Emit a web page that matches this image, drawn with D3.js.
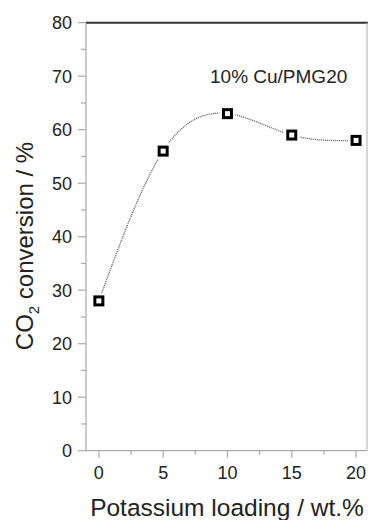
<!DOCTYPE html>
<html lang="en">
<head>
    <title>CO2 conversion vs potassium loading</title>
    <style>
        body, html { margin: 0; height: 100%; overflow: hidden; background: #fff; }
        svg { display: block; }
        text { font-family: "Liberation Sans", Arial, sans-serif; fill: #222; }
    </style>
    <script src="https://d3js.org/d3.v7.min.js"></script>
</head>
<body>
    <svg></svg>

    <script>
        // data
        const loading = [0, 5, 10, 15, 20];
        const conversion = [28, 56, 63, 59, 58];
        const xTicks = [0, 5, 10, 15, 20];
        const xMinor = [2.5, 7.5, 12.5, 17.5];
        const yTicks = [0, 10, 20, 30, 40, 50, 60, 70, 80];
        const yMinor = [5, 15, 25, 35, 45, 55, 65, 75];

        const width = 368, height = 520;
        const svg = d3.select("svg").attr("width", width).attr("height", height);

        const x = d3.scaleLinear().domain([-1, 20.85]).range([86, 367]);
        const y = d3.scaleLinear().domain([0, 80]).range([450.7, 22.7]);

        const points = loading.map((d, i) => ({ x: d, y: conversion[i] }));

        // frame: top and right
        svg.append("line")
            .attr("x1", x(-1)).attr("x2", width)
            .attr("y1", y(80)).attr("y2", y(80))
            .attr("stroke", "#333").attr("stroke-width", 2);
        svg.append("line")
            .attr("x1", x.range()[1]).attr("x2", x.range()[1])
            .attr("y1", y(80)).attr("y2", y(0))
            .attr("stroke", "#bbb").attr("stroke-width", 1.2);

        // left axis
        const yAxis = svg.append("g").attr("transform", `translate(${x(-1)},0)`);
        yAxis.append("line")
            .attr("y1", y(0)).attr("y2", y(80) + 1)
            .attr("stroke", "#aaa").attr("stroke-width", 1.2);
        yAxis.selectAll(".minor").data(yMinor).join("line")
            .attr("x1", -5).attr("x2", 0)
            .attr("y1", d => y(d)).attr("y2", d => y(d))
            .attr("stroke", "#aaa").attr("stroke-width", 1.2);
        yAxis.selectAll(".major").data(yTicks).join("line")
            .attr("x1", -8).attr("x2", 0)
            .attr("y1", d => y(d)).attr("y2", d => y(d))
            .attr("stroke", "#aaa").attr("stroke-width", 1.2);
        yAxis.selectAll("text").data(yTicks).join("text")
            .attr("x", -14).attr("y", d => y(d))
            .attr("dy", "0.35em")
            .attr("text-anchor", "end")
            .attr("font-size", 18)
            .text(d => d);

        // bottom axis
        const xAxis = svg.append("g").attr("transform", `translate(0,${y(0)})`);
        xAxis.append("line")
            .attr("x1", x(-1)).attr("x2", x.range()[1])
            .attr("stroke", "#aaa").attr("stroke-width", 1.2);
        xAxis.selectAll(".minor").data(xMinor).join("line")
            .attr("x1", d => x(d)).attr("x2", d => x(d))
            .attr("y1", 0).attr("y2", 4)
            .attr("stroke", "#aaa").attr("stroke-width", 1.2);
        xAxis.selectAll(".major").data(xTicks).join("line")
            .attr("x1", d => x(d)).attr("x2", d => x(d))
            .attr("y1", 0).attr("y2", 7)
            .attr("stroke", "#aaa").attr("stroke-width", 1.2);
        xAxis.selectAll("text").data(xTicks).join("text")
            .attr("x", d => x(d)).attr("y", 28)
            .attr("text-anchor", "middle")
            .attr("font-size", 18)
            .text(d => d);

        // axis titles
        svg.append("text")
            .attr("x", 227)
            .attr("y", 516)
            .attr("text-anchor", "middle")
            .attr("font-size", 24.5)
            .text("Potassium loading / wt.%");

        const yTitle = svg.append("text")
            .attr("transform", "translate(33,246) rotate(-90)")
            .attr("text-anchor", "middle")
            .attr("font-size", 24);
        yTitle.append("tspan").text("CO");
        yTitle.append("tspan").attr("font-size", 15).attr("dy", 6).text("2");
        yTitle.append("tspan").attr("dy", -6).text(" conversion / %");

        // annotation
        svg.append("text")
            .attr("x", 210).attr("y", 83)
            .attr("font-size", 19)
            .text("10% Cu/PMG20");

        // dotted spline through the points
        const line = d3.line()
            .x(d => x(d.x))
            .y(d => y(d.y))
            .curve(d3.curveNatural);

        svg.append("path")
            .datum(points)
            .attr("d", line)
            .attr("fill", "none")
            .attr("stroke", "#555")
            .attr("stroke-width", 1.3)
            .attr("stroke-dasharray", "1,1");

        // white halo so the line stops short of the markers
        svg.selectAll(".halo").data(points).join("rect")
            .attr("x", d => x(d.x) - 8).attr("y", d => y(d.y) - 8)
            .attr("width", 16).attr("height", 16)
            .attr("fill", "#fff");

        svg.selectAll(".marker").data(points).join("rect")
            .attr("x", d => x(d.x) - 4).attr("y", d => y(d.y) - 4)
            .attr("width", 8).attr("height", 8)
            .attr("fill", "#fff")
            .attr("stroke", "#000")
            .attr("stroke-width", 3);
    </script>
</body>
</html>
